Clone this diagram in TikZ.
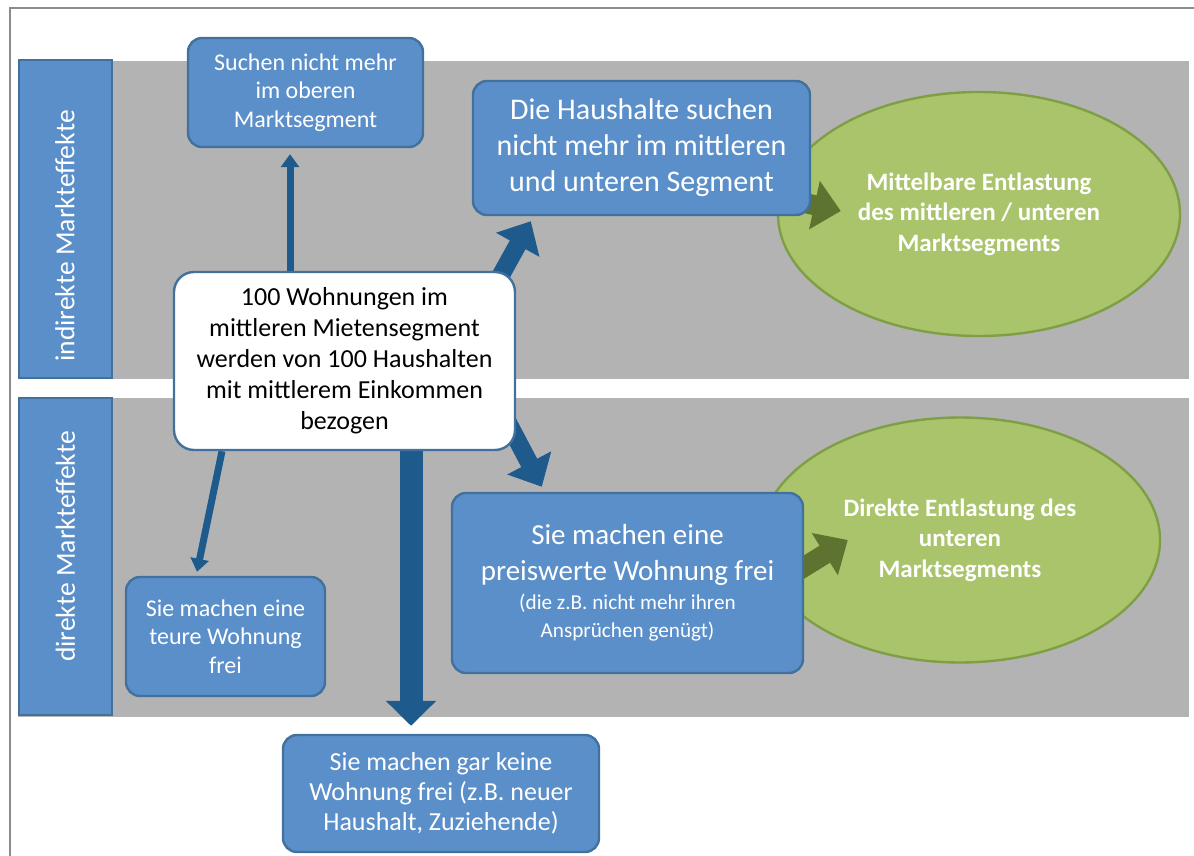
\documentclass[tikz,border=0pt]{standalone}
\usepackage{fontspec}
\setmainfont{Carlito}
\usepackage{tikz}
\usetikzlibrary{arrows.meta}
\usetikzlibrary{positioning}
\usetikzlibrary{shapes.geometric}
\usepackage{color}

\definecolor{boxblue}{HTML}{5B8FC9}
\definecolor{boxedge}{HTML}{41719C}
\definecolor{arrowblue}{HTML}{1F5A8C}
\definecolor{bandgray}{HTML}{B3B3B3}
\definecolor{ovalgreen}{HTML}{AAC46C}
\definecolor{ovaledge}{HTML}{7F9F45}
\definecolor{arrowgreen}{HTML}{5E7330}
\definecolor{framegray}{HTML}{8C8C8C}

\pgfdeclarelayer{bg}
\pgfdeclarelayer{mid}
\pgfsetlayers{bg,mid,main}

\begin{document}
\begin{tikzpicture}
    [x=0.5pt,y=-0.5pt,
bluebox/.style={rectangle, rounded corners=7pt, draw=boxedge, fill=boxblue, line width=1.2pt, text=white, align=center, inner sep=2pt},
whitebox/.style={bluebox, fill=white, text=black, rounded corners=10pt},
sidelabel/.style={rectangle, draw=boxedge, fill=boxblue, line width=1pt, text=white, rotate=90, minimum width=159pt, minimum height=46.5pt, font=\fontsize{13.8}{15}\selectfont},
oval/.style={ellipse, draw=ovaledge, fill=ovalgreen, line width=1.2pt, text=white, align=center, inner sep=0pt, minimum width=201pt, minimum height=122pt, font=\fontsize{12.5}{15.2}\selectfont\bfseries},
thinarrow/.style={draw=arrowblue, line width=3.5pt, -{Triangle[width=9pt,length=6.5pt]}},
fatarrow/.style={draw=arrowblue, line width=9pt, -{Triangle[width=24pt,length=13.5pt]}},
greenarrow/.style={draw=arrowgreen, line width=10pt, -{Triangle[width=24pt,length=13.5pt]}}
]
\useasboundingbox (0,0) rectangle (1194,856);
\draw[framegray, line width=1.2pt] (10,856) -- (10,8) -- (1194,8);

% bands and ovals
\begin{pgfonlayer}{bg}
\fill[bandgray] (18,61) rectangle (1189,379);
\fill[bandgray] (18,398) rectangle (1189,717);
\node[oval](mittelbar) at (979,214) {Mittelbare Entlastung\\des mittleren / unteren\\Marktsegments};
\node[oval, minimum width=200pt, minimum height=122.5pt](direkt) at (960,540) {Direkte Entlastung des\\unteren\\Marktsegments};
\end{pgfonlayer}

\node[sidelabel](indirekt) at (65,219) {indirekte Markteffekte\hspace*{17pt}};
\node[sidelabel, minimum width=158.5pt](direktlabel) at (65.5,556.5) {\hspace*{10pt}direkte Markteffekte};

\node[bluebox, minimum width=117.5pt, minimum height=54.5pt, font=\fontsize{12}{14.2}\selectfont](oben) at (305.5,92.5) {Suchen nicht mehr\\im oberen\\Marktsegment};
\node[bluebox, minimum width=168.5pt, minimum height=67pt, font=\fontsize{15}{18}\selectfont](haushalte) at (641.5,148) {Die Haushalte suchen\\nicht mehr im mittleren\\und unteren Segment};
\node[whitebox, minimum width=170.5pt, minimum height=89pt, font=\fontsize{13}{15.5}\selectfont](zentrum) at (344.5,361) {100 Wohnungen im\\mittleren Mietensegment\\werden von 100 Haushalten\\mit mittlerem Einkommen\\bezogen};
\node[bluebox, minimum width=175.5pt, minimum height=90pt, font=\fontsize{14.5}{18}\selectfont](preiswert) at (627.5,583) {Sie machen eine\\preiswerte Wohnung frei\\[-3.5pt]\fontsize{10.6}{15}\selectfont (die z.B. nicht mehr ihren\\[-4pt]\fontsize{10.6}{15}\selectfont Ansprüchen genügt)};
\node[bluebox, minimum width=99.5pt, minimum height=59.5pt, font=\fontsize{12}{14.2}\selectfont](teuer) at (225.5,636.5) {Sie machen eine\\teure Wohnung\\frei};
\node[bluebox, minimum width=158pt, minimum height=58.5pt, font=\fontsize{13}{15}\selectfont](keine) at (441,793.5) {Sie machen gar keine\\Wohnung frei (z.B. neuer\\Haushalt, Zuziehende)};

% connectors
\begin{pgfonlayer}{mid}
\draw[thinarrow] ([xshift=-27.25pt]zentrum.north) -- ([xshift=-7.75pt,yshift=-3pt]oben.south);
\draw[thinarrow] ([xshift=-61.25pt]zentrum.south) -- ([xshift=-14.25pt,yshift=2pt]teuer.north);
\draw[fatarrow] ([xshift=-12pt,yshift=-10pt]zentrum.north east) -- ([xshift=29.5pt,yshift=-2.5pt]haushalte.south west);
\draw[fatarrow] ([xshift=-5pt,yshift=16pt]zentrum.south east) -- ([xshift=45.5pt,yshift=2.5pt]preiswert.north west);
\draw[fatarrow, line width=11.5pt, -{Triangle[width=24.5pt,length=12.5pt]}] ([xshift=33.25pt]zentrum.south) -- ([xshift=-15pt,yshift=4pt]keine.north);
\draw[greenarrow] ([xshift=-10pt,yshift=-26pt]haushalte.east) -- ([xshift=32pt,yshift=1.5pt]mittelbar.west);
\draw[greenarrow] ([xshift=-9pt,yshift=2.5pt]preiswert.east) -- ([xshift=44.5pt]direkt.west);
\end{pgfonlayer}
\end{tikzpicture}
\end{document}
